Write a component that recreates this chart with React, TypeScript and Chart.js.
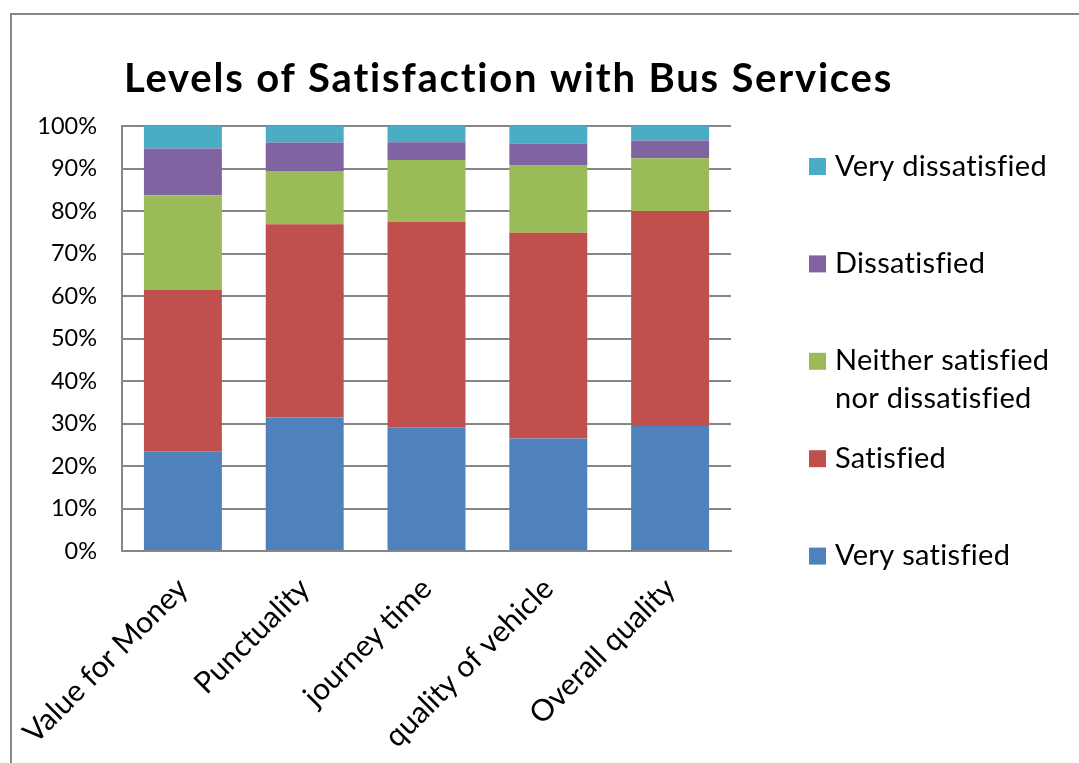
import React, { useEffect, useRef } from "react";
import { Chart, registerables } from "chart.js";
Chart.register(...registerables);

const categories = ["Value for Money", "Punctuality", "journey time", "quality of vehicle", "Overall quality"];
const verySatisfied = [23.5, 31.4, 29.1, 26.5, 29.4];
const satisfied = [37.9, 45.5, 48.4, 48.4, 50.6];
const neither = [22.3, 12.5, 14.5, 15.9, 12.4];
const dissatisfied = [11.0, 6.7, 4.2, 5.1, 4.2];
const veryDissatisfied = [5.3, 3.9, 3.8, 4.1, 3.4];
const seriesNames = ["Very satisfied", "Satisfied", "Neither satisfied nor dissatisfied", "Dissatisfied", "Very dissatisfied"];
const seriesColors = ["#4F81BD", "#C0504D", "#9BBB59", "#8064A2", "#4BACC6"];
const seriesValues = [verySatisfied, satisfied, neither, dissatisfied, veryDissatisfied];
const yTickValues = [0, 10, 20, 30, 40, 50, 60, 70, 80, 90, 100];
const titleText = "Levels of Satisfaction with Bus Services";

const FONT = "Lato";
const W = 1079;
const H = 763;

function wrapText(ctx: CanvasRenderingContext2D, text: string, maxWidth: number): string[] {
  const words = text.split(" ");
  const lines: string[] = [];
  let cur = "";
  for (const w of words) {
    const test = cur ? cur + " " + w : w;
    if (ctx.measureText(test).width > maxWidth && cur) {
      lines.push(cur);
      cur = w;
    } else {
      cur = test;
    }
  }
  if (cur) lines.push(cur);
  return lines;
}

const decorPlugin = {
  id: "decor",
  afterDraw(chart: any) {
    const ctx = chart.ctx as any;
    ctx.save();
    // title
    ctx.fillStyle = "#000";
    ctx.font = `bold 40px ${FONT}`;
    ctx.letterSpacing = "1.8px";
    ctx.textAlign = "center";
    ctx.textBaseline = "alphabetic";
    ctx.fillText(titleText, 508.5, 92);
    // legend (reverse order)
    ctx.font = `29px ${FONT}`;
    ctx.letterSpacing = "0.3px";
    ctx.textAlign = "left";
    const ds = chart.data.datasets;
    const order = ds.map((_: any, i: number) => i).reverse();
    order.forEach((di: number, k: number) => {
      const cy = 166.5 + k * 97.4;
      ctx.fillStyle = ds[di].backgroundColor;
      ctx.fillRect(809, cy - 8.5, 17, 17);
      ctx.fillStyle = "#000";
      const lines = wrapText(ctx, ds[di].label, 240);
      lines.forEach((ln: string, j: number) => {
        ctx.fillText(ln, 835, cy + 9 + j * 37.5);
      });
    });
    ctx.letterSpacing = "0px";
    ctx.restore();
  },
};

export default function App() {
  const ref = useRef<HTMLCanvasElement | null>(null);
  useEffect(() => {
    let chart: Chart | null = null;
    let cancelled = false;
    const make = () => {
      if (cancelled || !ref.current) return;
      chart = new Chart(ref.current, {
        type: "bar",
        data: {
          labels: categories,
          datasets: seriesValues.map((vals, i) => ({
            label: seriesNames[i],
            data: vals,
            backgroundColor: seriesColors[i],
            borderWidth: 0,
            barPercentage: 0.64,
            categoryPercentage: 1,
          })),
        },
        options: {
          responsive: false,
          animation: false,
          devicePixelRatio: 1,
          layout: { padding: { top: 126, right: W - 731, left: 0, bottom: 0 } },
          plugins: {
            legend: { display: false },
            title: { display: false },
            tooltip: { enabled: false },
          },
          scales: {
            x: {
              stacked: true,
              grid: { display: false, drawTicks: false },
              border: { display: true, color: "#868686", width: 2 },
              ticks: {
                color: "#000",
                font: { family: FONT, size: 30 },
                minRotation: 45,
                maxRotation: 45,
                padding: 20,
                autoSkip: false,
              },
              afterFit: (s: any) => {
                s.height = H - 551;
                s.paddingLeft = 0;
                s.paddingRight = 0;
              },
            },
            y: {
              stacked: true,
              min: 0,
              max: 100,
              afterBuildTicks: (s: any) => {
                s.ticks = yTickValues.map((v) => ({ value: v }));
              },
              grid: { color: "#868686", lineWidth: 2, drawTicks: false },
              border: { display: true, color: "#868686", width: 2 },
              ticks: {
                color: "#000",
                font: { family: FONT, size: 23.5 },
                padding: 25,
                callback: (v: any) => v + "%",
              },
              afterFit: (s: any) => {
                s.width = 122;
                s.paddingTop = 0;
                s.paddingBottom = 0;
              },
            },
          },
        },
        plugins: [decorPlugin],
      });
    };
    const fonts = (document as any).fonts;
    if (fonts && fonts.load) {
      Promise.all([
        fonts.load(`bold 40px ${FONT}`),
        fonts.load(`29px ${FONT}`),
      ]).then(make, make);
    } else {
      make();
    }
    return () => {
      cancelled = true;
      if (chart) chart.destroy();
    };
  }, []);
  return (
    <div style={{ position: "fixed", left: 0, top: 0, width: W, height: H, overflow: "hidden", background: "#fff" }}>
      <div
        style={{
          position: "absolute",
          left: 10,
          top: 13,
          width: 2000,
          height: 2000,
          border: "2px solid #878787",
          boxSizing: "border-box",
        }}
      />
      <canvas ref={ref} width={W} height={H} style={{ position: "absolute", left: 0, top: 0, width: W, height: H }} />
    </div>
  );
}
